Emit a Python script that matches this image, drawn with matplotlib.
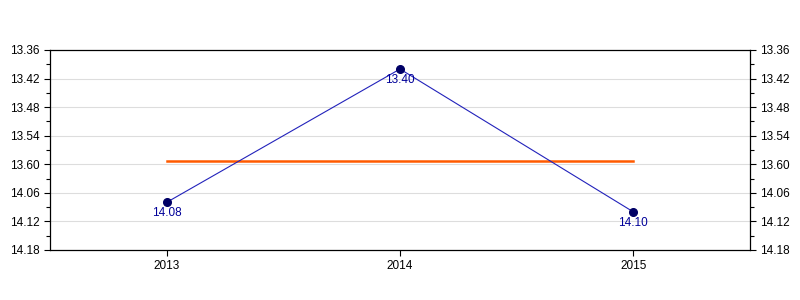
import matplotlib
matplotlib.use("Agg")
import matplotlib.pyplot as plt
from matplotlib.ticker import FixedLocator, FixedFormatter

plt.rcParams['font.family'] = ['Liberation Sans', 'DejaVu Sans']

years = [2013, 2014, 2015]
times = ["14.08", "13.40", "14.10"]          # minutes.seconds
tick_labels = ["13.36", "13.42", "13.48", "13.54", "13.60", "14.06", "14.12", "14.18"]
tick_seconds = [816, 822, 828, 834, 840, 846, 852, 858]


def to_sec(s):
    m, sec = s.split(".")
    return int(m) * 60 + int(sec)


vals = [to_sec(t) for t in times]
avg = sum(vals) / len(vals)

fig = plt.figure(figsize=(8, 3), dpi=100)
ax = fig.add_axes([0.0625, 0.1667, 0.875, 0.6667])

ax.plot(years, vals, color="#2222BB", lw=0.8, zorder=3)
ax.plot(years, vals, 'o', color="#000066", ms=5.5, zorder=4)
ax.plot([years[0], years[-1]], [avg, avg], color="#FF5A00", lw=1.8, zorder=2)

for x, y, t in zip(years, vals, times):
    ax.annotate(t, (x, y), xytext=(0, -3.5), textcoords="offset points",
                ha="center", va="top", color="#000099", fontsize=8.5, zorder=5)

ax.set_xlim(2012.5, 2015.5)
ax.set_ylim(tick_seconds[-1], tick_seconds[0])
ax.set_xticks(years)
ax.set_xticklabels([str(y) for y in years])

ax.yaxis.set_major_locator(FixedLocator(tick_seconds))
ax.yaxis.set_major_formatter(FixedFormatter(tick_labels))
minor = [a + 3 for a in tick_seconds[:-1]]
ax.yaxis.set_minor_locator(FixedLocator(minor))

ax.tick_params(axis='y', which='both', left=True, right=True, labelleft=True, labelright=True,
               direction='out', labelsize=8.5, width=0.8)
ax.tick_params(axis='y', which='major', length=4)
ax.tick_params(axis='y', which='minor', length=3)
ax.tick_params(axis='x', direction='out', length=4, labelsize=8.5, width=0.8)

for y in tick_seconds[1:-1]:
    ax.axhline(y, color="#DDDDDD", lw=0.8, zorder=1)

for s in ax.spines.values():
    s.set_linewidth(0.9)
    s.set_color("black")

fig.savefig("out.png", dpi=100)
